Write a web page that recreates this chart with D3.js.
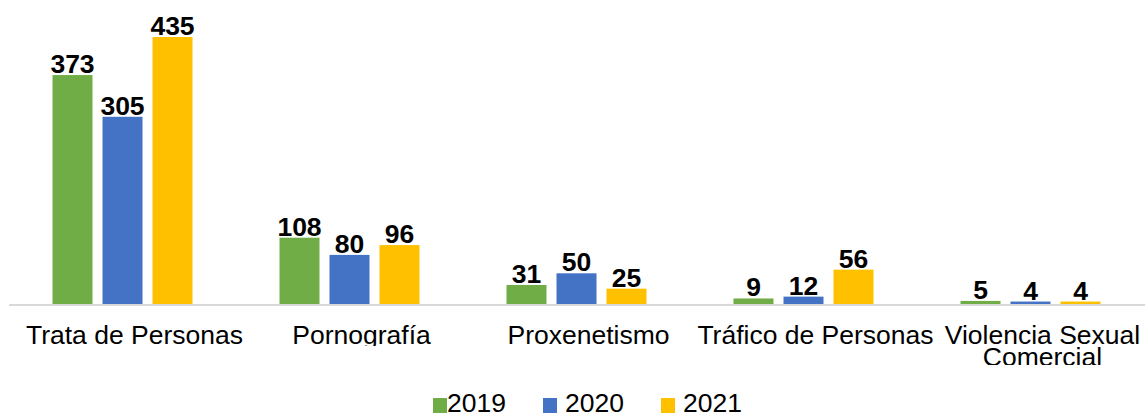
<!DOCTYPE html>
<html>
<head>
<meta charset="utf-8">
<script src="https://cdn.jsdelivr.net/npm/d3@7"></script>
<style>
  html, body { margin: 0; padding: 0; background: #fff; }
  svg { display: block; }
  text { font-family: "Liberation Sans", Arial, sans-serif; fill: #000; }
</style>
</head>
<body>
<svg id="chart" width="1145" height="414"></svg>
<script>
const categories = ["Trata de Personas", "Pornografía", "Proxenetismo", "Tráfico de Personas", "Violencia Sexual Comercial"];
const years = ["2019", "2020", "2021"];
const values2019 = [373, 108, 31, 9, 5];
const values2020 = [305, 80, 50, 12, 4];
const values2021 = [435, 96, 25, 56, 4];
const colors = ["#70ad47", "#4472c4", "#ffc000"];

const seriesValues = [values2019, values2020, values2021];
const data = categories.map((c, i) => ({
  category: c,
  values: years.map((y, j) => ({ year: y, value: seriesValues[j][i], color: colors[j] }))
}));

const svg = d3.select("#chart");
const baseY = 304;
const x0 = d3.scaleBand().domain(categories).range([9, 1144]).padding(0);
const bw = x0.bandwidth();
const x1 = d3.scaleBand().domain(years).range([bw / 2 - 70, bw / 2 + 70]).paddingInner(0.2).paddingOuter(0);
const y = d3.scaleLinear().domain([0, 435]).range([baseY, 37]);

// clip paths for label lines
const defs = svg.append("defs");
defs.append("clipPath").attr("id", "clipL1").append("rect").attr("x", 0).attr("y", 310).attr("width", 1145).attr("height", 36);
defs.append("clipPath").attr("id", "clipL2").append("rect").attr("x", 0).attr("y", 346).attr("width", 1145).attr("height", 19);

// bars
const groups = svg.append("g").selectAll("g").data(data).join("g")
  .attr("transform", d => `translate(${x0(d.category)},0)`);

groups.selectAll("rect").data(d => d.values).join("rect")
  .attr("x", d => x1(d.year))
  .attr("width", x1.bandwidth())
  .attr("y", d => y(d.value))
  .attr("height", d => baseY - y(d.value))
  .attr("fill", d => d.color);

groups.selectAll("text.val").data(d => d.values).join("text")
  .attr("class", "val")
  .attr("x", d => x1(d.year) + x1.bandwidth() / 2)
  .attr("y", d => y(d.value) - 2)
  .attr("text-anchor", "middle")
  .style("font-size", "26.5px")
  .style("font-weight", "bold")
  .text(d => d.value);

// axis line
svg.append("line")
  .attr("x1", 9).attr("x2", 1145)
  .attr("y1", baseY + 1).attr("y2", baseY + 1)
  .attr("stroke", "#d9d9d9").attr("stroke-width", 2);

// category labels with wrapping
const measure = svg.append("text").style("font-size", "26.5px").attr("visibility", "hidden");
function textWidth(s) { measure.text(s); return measure.node().getComputedTextLength(); }
function wrap(label, maxW) {
  const words = label.split(" ");
  const lines = [];
  let cur = words[0];
  for (let k = 1; k < words.length; k++) {
    const t = cur + " " + words[k];
    if (textWidth(t) > maxW) { lines.push(cur); cur = words[k]; } else cur = t;
  }
  lines.push(cur);
  return lines;
}

const labelG = svg.append("g");
categories.forEach(c => {
  const lines = wrap(c, 245);
  lines.forEach((ln, li) => {
    labelG.append("text")
      .attr("x", x0(c) + bw / 2 + 12)
      .attr("y", 344 + li * 22)
      .attr("text-anchor", "middle")
      .attr("clip-path", li === 0 ? "url(#clipL1)" : "url(#clipL2)")
      .style("font-size", "26.5px")
      .text(ln);
  });
});
measure.remove();

// legend
const legendX = [433, 543, 661];
const legend = svg.append("g");
years.forEach((yr, j) => {
  legend.append("rect")
    .attr("x", legendX[j]).attr("y", 398)
    .attr("width", 14).attr("height", 15)
    .attr("fill", colors[j]);
  legend.append("text")
    .attr("x", legendX[j] + (j === 0 ? 14 : 22))
    .attr("y", 412)
    .style("font-size", "26.5px")
    .text(yr);
});
</script>
</body>
</html>
